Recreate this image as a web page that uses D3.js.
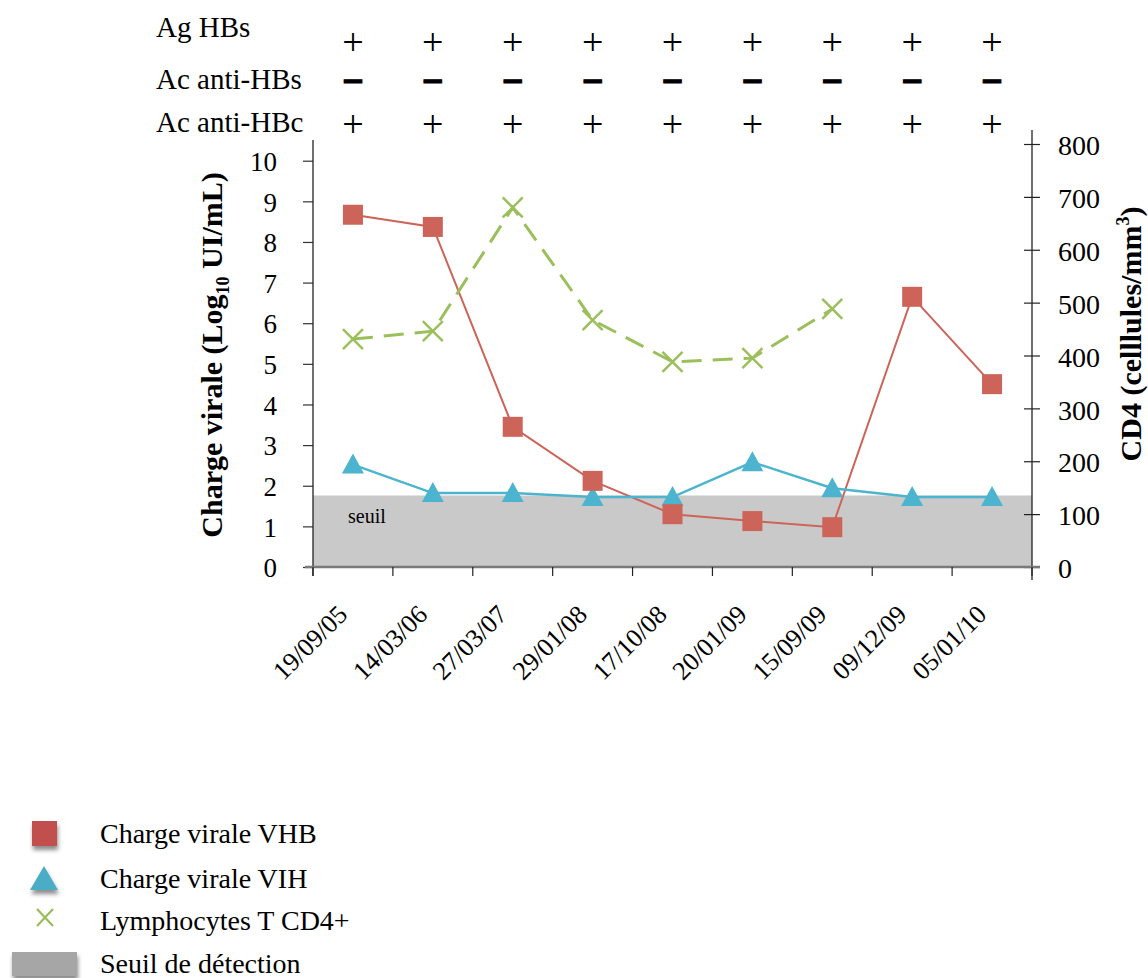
<!DOCTYPE html>
<html><head><meta charset="utf-8">
<script src="https://cdn.jsdelivr.net/npm/d3@7"></script>
<style>body{margin:0;background:#fff}svg{display:block}text{font-family:"Liberation Serif","Times New Roman",serif}</style>
</head><body><svg id="c" width="1148" height="978"></svg>
<script>
const dates = ["19/09/05","14/03/06","27/03/07","29/01/08","17/10/08","20/01/09","15/09/09","09/12/09","05/01/10"];
const vhb = [8.67,8.37,3.45,2.12,1.3,1.13,0.98,6.65,4.5];
const vih = [2.52,1.82,1.82,1.72,1.72,2.58,1.94,1.72,1.72];
const cd4 = [431,446,680,467,388,395,488,null,null];
const seuil = 1.76;
const leftTicks = [0,1,2,3,4,5,6,7,8,9,10];
const rightTicks = [0,100,200,300,400,500,600,700,800];
const serology = [
  {label:"Ag HBs", signs:["+","+","+","+","+","+","+","+","+"]},
  {label:"Ac anti-HBs", signs:["−","−","−","−","−","−","−","−","−"]},
  {label:"Ac anti-HBc", signs:["+","+","+","+","+","+","+","+","+"]}
];
const legendItems = ["Charge virale VHB","Charge virale VIH","Lymphocytes T CD4+","Seuil de détection"];

const svg = d3.select("#c");
const x0 = 313, x1 = 1032, yB = 567;
const x = d3.scaleBand().domain(dates).range([x0,x1]);
const yL = d3.scaleLinear().domain([0,10]).range([yB,160.7]);
const yR = d3.scaleLinear().domain([0,800]).range([yB,144]);
const cx = d => x(d)+x.bandwidth()/2;

// threshold band
svg.append("rect").attr("x",x0).attr("y",yL(seuil)).attr("width",x1-x0).attr("height",yB-yL(seuil)).attr("fill","#c9c9c9");
svg.append("text").attr("x",348).attr("y",523).attr("font-size",20).text("seuil");

// left axis
const gL = svg.append("g").attr("transform",`translate(${x0},0)`)
  .call(d3.axisLeft(yL).tickValues(leftTicks).tickSize(10).tickPadding(26).tickFormat(d3.format("d")));
gL.select(".domain").remove();
gL.selectAll(".tick line").attr("stroke","#333").attr("stroke-width",1.2);
gL.selectAll("text").attr("font-size",27).attr("fill","#000").attr("dy","0.36em");
svg.append("line").attr("x1",x0).attr("x2",x0).attr("y1",140).attr("y2",yB+9).attr("stroke","#222").attr("stroke-width",1.3);

// right axis
const gR = svg.append("g").attr("transform",`translate(${x1},0)`)
  .call(d3.axisRight(yR).tickValues(rightTicks).tickSize(0).tickPadding(26).tickFormat(d3.format("d")));
gR.select(".domain").remove();
gR.selectAll(".tick line").remove();
gR.selectAll(".tick").append("line").attr("x1",-8).attr("x2",8).attr("stroke","#222").attr("stroke-width",1.2);
gR.selectAll("text").attr("font-size",28).attr("fill","#000").attr("dy","0.38em");
svg.append("line").attr("x1",x1).attr("x2",x1).attr("y1",130).attr("y2",yB+13).attr("stroke","#222").attr("stroke-width",1.3);

// bottom axis
svg.append("line").attr("x1",x0-8).attr("x2",x1+8).attr("y1",yB).attr("y2",yB).attr("stroke","#7a7a7a").attr("stroke-width",2.5);
const bounds = dates.map(d=>x(d)).concat([x1]);
svg.append("g").selectAll("line").data(bounds).join("line")
  .attr("x1",d=>d).attr("x2",d=>d).attr("y1",yB).attr("y2",yB+9).attr("stroke","#222").attr("stroke-width",1.2);
svg.append("g").selectAll("text").data(dates).join("text")
  .attr("transform",d=>`translate(${cx(d)-4},${yB+49}) rotate(-45)`)
  .attr("text-anchor","end").attr("font-size",26).text(d=>d);

// axis titles
const tl = svg.append("text").attr("transform","translate(222,355) rotate(-90)").attr("text-anchor","middle")
  .attr("font-size",30).attr("font-weight","bold");
tl.append("tspan").text("Charge virale (Log");
tl.append("tspan").attr("font-size",18).attr("dy",7).text("10");
tl.append("tspan").attr("dy",-7).text(" UI/mL)");
const tr = svg.append("text").attr("transform","translate(1141,334) rotate(-90)").attr("text-anchor","middle")
  .attr("font-size",30).attr("font-weight","bold");
tr.append("tspan").text("CD4  (celllules/mm");
tr.append("tspan").attr("font-size",18).attr("dy",-12).text("3");
tr.append("tspan").attr("dy",12).text(")");

// serology header
const rowY = [37,89,132];
const signY = [55,90,137];
serology.forEach((r,i)=>{
  svg.append("text").attr("x",156).attr("y",rowY[i]).attr("font-size",29).text(r.label);
  svg.append("g").selectAll("text").data(r.signs).join("text")
    .attr("x",(d,j)=>cx(dates[j])).attr("y",signY[i]).attr("text-anchor","middle")
    .attr("font-size",d=>d==="+"?38:28)
    .style("font-family",d=>d==="+"?"Liberation Serif":"DejaVu Sans")
    .attr("font-weight",d=>d==="+"?"normal":"bold")
    .attr("stroke",d=>d==="+"?"none":"#000").attr("stroke-width",1.2)
    .text(d=>d);
});

// lines
const red="#cc6459", blue="#4db4cf", green="#9bbf5b";
const lineL = d3.line().x((d,i)=>cx(dates[i])).y(d=>yL(d));
svg.append("path").attr("d",lineL(vhb)).attr("fill","none").attr("stroke",red).attr("stroke-width",2);
svg.append("path").attr("d",lineL(vih)).attr("fill","none").attr("stroke",blue).attr("stroke-width",2.5);
const cdPts = cd4.map((v,i)=>({v,i})).filter(d=>d.v!=null);
svg.append("path").attr("d",d3.line().x(d=>cx(dates[d.i])).y(d=>yR(d.v))(cdPts)).attr("fill","none")
  .attr("stroke",green).attr("stroke-width",3).attr("stroke-dasharray","20,11");

// markers
svg.append("g").selectAll("path").data(vih).join("path")
  .attr("d","M0,-11L11,9L-11,9Z").attr("fill",blue)
  .attr("transform",(d,i)=>`translate(${cx(dates[i])},${yL(d)})`);
svg.append("g").selectAll("rect").data(vhb).join("rect")
  .attr("x",(d,i)=>cx(dates[i])-10).attr("y",d=>yL(d)-10).attr("width",20).attr("height",20).attr("fill",red);
svg.append("g").selectAll("path").data(cdPts).join("path")
  .attr("d","M-10,-10L10,10M-10,10L10,-10").attr("stroke",green).attr("stroke-width",2.5)
  .attr("transform",d=>`translate(${cx(dates[d.i])},${yR(d.v)})`);

// legend
const defs = svg.append("defs");
const f = defs.append("filter").attr("id","sh").attr("x","-50%").attr("y","-50%").attr("width","200%").attr("height","200%");
f.append("feDropShadow").attr("dx",1).attr("dy",4).attr("stdDeviation",2).attr("flood-color","#000").attr("flood-opacity",0.45);
const lg = svg.append("g");
lg.append("rect").attr("x",32).attr("y",821).attr("width",25).attr("height",25).attr("fill","#c0504d").attr("filter","url(#sh)");
lg.append("path").attr("d","M44,866L58,890L30,890Z").attr("fill","#4bacc6").attr("filter","url(#sh)");
lg.append("path").attr("d","M37,909L53,926M53,909L37,926").attr("stroke","#9bbb59").attr("stroke-width",2.2);
lg.append("rect").attr("x",12).attr("y",952).attr("width",65).attr("height",24).attr("fill","#a6a6a6").attr("filter","url(#sh)");
lg.selectAll("text.l").data(legendItems).join("text").attr("class","l")
  .attr("x",100).attr("y",(d,i)=>[843,888,930,973][i]).attr("font-size",28).text(d=>d);
</script></body></html>
